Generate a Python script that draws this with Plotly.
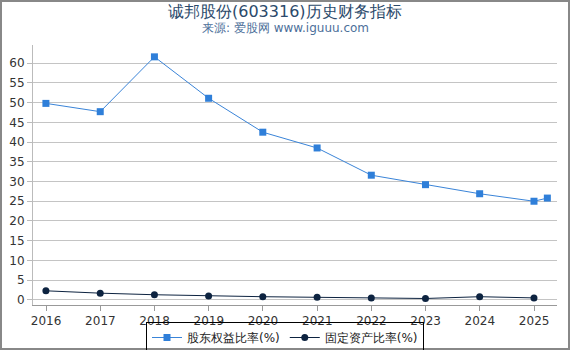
import plotly.graph_objects as go

dates_equity = ["2015-12-31", "2016-12-31", "2017-12-31", "2018-12-31", "2019-12-31",
                "2020-12-31", "2021-12-31", "2022-12-31", "2023-12-31", "2024-12-31", "2025-03-31"]
equity_ratio = [49.8, 47.7, 61.6, 51.1, 42.5, 38.5, 31.6, 29.2, 26.9, 25.0, 25.8]

dates_fixed = ["2015-12-31", "2016-12-31", "2017-12-31", "2018-12-31", "2019-12-31",
               "2020-12-31", "2021-12-31", "2022-12-31", "2023-12-31", "2024-12-31"]
fixed_ratio = [2.3, 1.7, 1.3, 1.0, 0.8, 0.65, 0.45, 0.35, 0.8, 0.5]

tick_vals = [f"{y}-01-01" for y in range(2016, 2026)]
tick_text = [str(y) for y in range(2016, 2026)]

title_text = "诚邦股份(603316)历史财务指标"
subtitle_text = "来源: 爱股网 www.iguuu.com"

fig = go.Figure()
fig.add_trace(go.Scatter(
    x=dates_equity, y=equity_ratio, name="股东权益比率(%)", mode="lines+markers",
    line=dict(color="#3a84d8", width=1),
    marker=dict(symbol="square", size=7, color="#2f7fd9"),
))
fig.add_trace(go.Scatter(
    x=dates_fixed, y=fixed_ratio, name="固定资产比率(%)", mode="lines+markers",
    line=dict(color="#0d2340", width=1),
    marker=dict(symbol="circle", size=7, color="#0d2340"),
))

L, R, T, B = 33, 13, 45, 45
W, H = 570, 350
pw, ph = W - L - R, H - T - B

fig.update_layout(
    width=W, height=H,
    margin=dict(l=L, r=R, t=T, b=B, autoexpand=False),
    paper_bgcolor="white", plot_bgcolor="white",
    font=dict(family="DejaVu Sans", size=12, color="#333333"),
    showlegend=True,
    legend=dict(
        orientation="h", xref="container", x=0.5, xanchor="center",
        yref="container", y=(H - 322) / H, yanchor="top",
        bgcolor="rgba(255,255,255,0)",
        bordercolor="#000000", borderwidth=1, font=dict(size=12, color="#222222"),
        itemwidth=30, tracegroupgap=0,
    ),
    xaxis=dict(
        type="date", range=["2015-10-05", "2025-06-04"],
        tickvals=tick_vals, ticktext=tick_text,
        showgrid=False, showline=True, linecolor="#999999", linewidth=1,
        ticks="outside", ticklen=5, tickcolor="#999999",
        tickfont=dict(size=12, color="#333333"),
    ),
    yaxis=dict(
        range=[-1.3, 64.6], tickvals=list(range(0, 65, 5)),
        showgrid=True, gridcolor="#c4c4c4", gridwidth=1,
        showline=True, linecolor="#bbbbbb", linewidth=1,
        ticks="outside", ticklen=5, tickcolor="#bbbbbb",
        zeroline=False, tickfont=dict(size=12, color="#333333"),
    ),
    annotations=[
        dict(text=title_text, xref="paper", yref="paper", x=0.5 - (L - R) / 2 / pw,
             y=1 + (T - 11) / ph, xanchor="center", yanchor="middle", showarrow=False,
             font=dict(size=16, color="#2b4a6b")),
        dict(text=subtitle_text, xref="paper", yref="paper", x=0.5 - (L - R) / 2 / pw,
             y=1 + (T - 28) / ph, xanchor="center", yanchor="middle", showarrow=False,
             font=dict(size=12, color="#4d6f9a")),
    ],
    shapes=[dict(
        type="rect", xref="paper", yref="paper",
        x0=-(L - 1) / pw, x1=1 + (R - 1) / pw,
        y0=-(B - 1) / ph, y1=1 + (T - 1) / ph,
        line=dict(color="#888888", width=2), layer="below",
    )],
)

fig.write_html("out.html")
